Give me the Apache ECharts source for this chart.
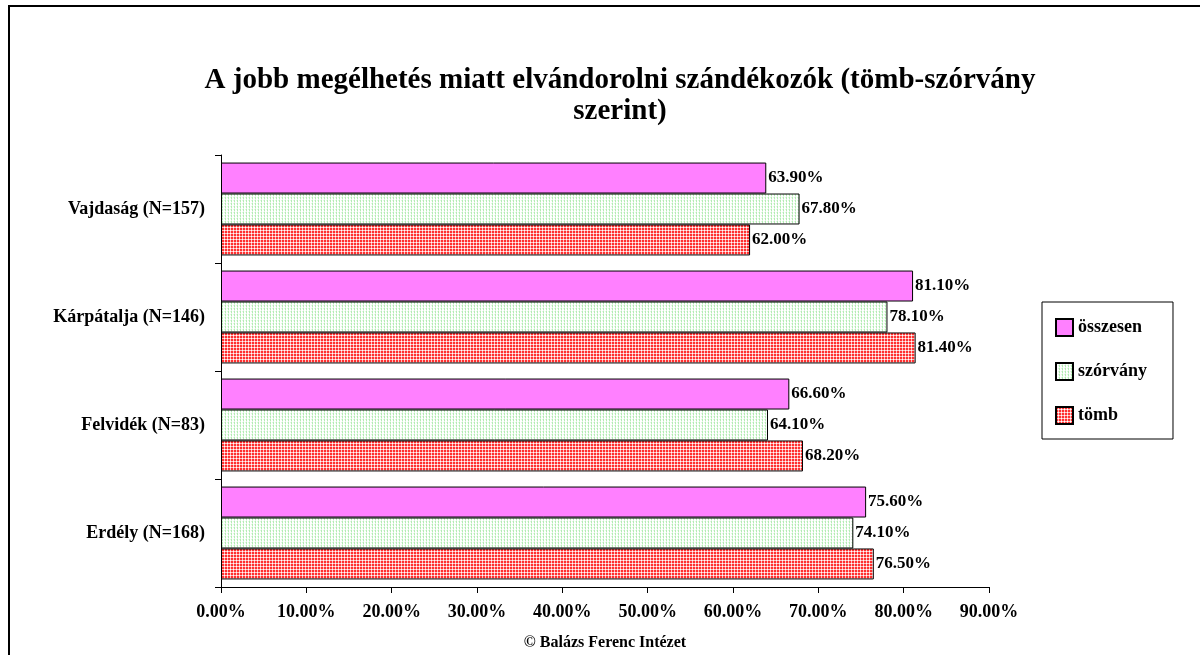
<!DOCTYPE html>
<html>
<head>
<meta charset="utf-8">
<script src="https://cdn.jsdelivr.net/npm/echarts@6/dist/echarts.min.js"></script>
<style>
  html, body { margin: 0; padding: 0; background: #fff; }
  #chart-main { width: 1200px; height: 655px; }
</style>
</head>
<body>
<div id="chart-main"></div>
<script>
// categories bottom -> top (ECharts category y axis starts at the bottom)
const regions = ['Erdély (N=168)', 'Felvidék (N=83)', 'Kárpátalja (N=146)', 'Vajdaság (N=157)']
const osszesen = [75.6, 66.6, 81.1, 63.9]
const szorvany = [74.1, 64.1, 78.1, 67.8]
const tomb = [76.5, 68.2, 81.4, 62.0]
const xTicks = [0, 10, 20, 30, 40, 50, 60, 70, 80, 90]

const FONT = '"Liberation Serif", "Times New Roman", serif'

// small repeat patterns like the old excel fills
function makePattern(cells) {
  const c = document.createElement('canvas')
  c.width = cells[0].length
  c.height = cells.length
  const ctx = c.getContext('2d')
  cells.forEach((row, y) => row.forEach((col, x) => {
    ctx.fillStyle = col
    ctx.fillRect(x, y, 1, 1)
  }))
  return { image: c, repeat: 'repeat' }
}

const W = '#ffffff'
const G = '#b4ecb4'
const g = '#e2f8e2'
const R = '#ff3030'
const P = '#ffbcbc'

const greenDots = makePattern([
  [G, W, W],
  [g, W, W],
  [G, W, g]
])
const redCheck = makePattern([
  [R, R, P],
  [R, R, P],
  [P, P, W]
])

const labelStyle = {
  show: true,
  position: 'right',
  distance: 2,
  color: '#000',
  fontFamily: FONT,
  fontWeight: 'bold',
  fontSize: 17,
  formatter: (p) => p.value.toFixed(2) + '%'
}

const myChart = echarts.init(document.getElementById('chart-main'))
myChart.setOption({
  animation: false,
  backgroundColor: '#fff',
  title: {
    text: 'A jobb megélhetés miatt elvándorolni szándékozók (tömb-szórvány\nszerint)',
    left: 615,
    top: 60,
    textAlign: 'center',
    textStyle: {
      fontFamily: FONT,
      fontWeight: 'bold',
      fontSize: 29,
      lineHeight: 31,
      color: '#000'
    }
  },
  graphic: [{
    type: 'rect',
    shape: { x: 9, y: 6, width: 1300, height: 800 },
    style: { fill: 'none', stroke: '#000', lineWidth: 2 },
    silent: true
  }],
  legend: {
    orient: 'vertical',
    left: 1042,
    top: 302,
    width: 130,
    padding: [16, 26, 14, 13],
    icon: 'rect',
    itemWidth: 17,
    itemHeight: 17,
    itemGap: 25,
    borderColor: '#000',
    borderWidth: 1,
    data: ['összesen', 'szórvány', 'tömb'],
    textStyle: {
      fontFamily: FONT,
      fontWeight: 'bold',
      fontSize: 18,
      color: '#000'
    }
  },
  grid: { left: 221, right: 211, top: 155, bottom: 68, outerBoundsMode: 'none', containLabel: false },
  xAxis: {
    type: 'value',
    min: 0,
    max: 90,
    interval: 10,
    name: '© Balázs Ferenc Intézet',
    nameLocation: 'middle',
    nameGap: 48,
    nameTextStyle: { fontFamily: FONT, fontWeight: 'bold', fontSize: 16, color: '#000' },
    splitLine: { show: false },
    axisLine: { show: true, lineStyle: { color: '#000' } },
    axisTick: { show: true, length: 6, lineStyle: { color: '#000' } },
    axisLabel: {
      margin: 16,
      color: '#000',
      fontFamily: FONT,
      fontWeight: 'bold',
      fontSize: 18,
      formatter: (v) => (xTicks.includes(v) ? v.toFixed(2) + '%' : '')
    }
  },
  yAxis: {
    type: 'category',
    data: regions,
    axisLine: { show: true, lineStyle: { color: '#000' } },
    axisTick: { show: true, length: 6, lineStyle: { color: '#000' } },
    axisLabel: {
      margin: 16,
      color: '#000',
      fontFamily: FONT,
      fontWeight: 'bold',
      fontSize: 18
    }
  },
  series: [
    {
      name: 'összesen',
      type: 'bar',
      data: osszesen,
      barGap: '0%',
      barCategoryGap: '14%',
      itemStyle: { color: '#ff80ff', borderColor: '#000', borderWidth: 1 },
      label: labelStyle
    },
    {
      name: 'szórvány',
      type: 'bar',
      data: szorvany,
      itemStyle: { color: greenDots, borderColor: '#000', borderWidth: 1 },
      label: labelStyle
    },
    {
      name: 'tömb',
      type: 'bar',
      data: tomb,
      itemStyle: { color: redCheck, borderColor: '#000', borderWidth: 1 },
      label: labelStyle
    }
  ]
})
</script>
</body>
</html>
